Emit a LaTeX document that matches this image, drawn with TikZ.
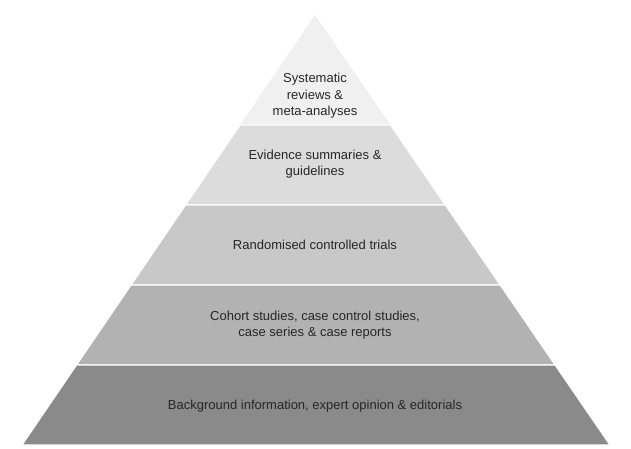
\documentclass[tikz,border=0pt]{standalone}
\usepackage{fontspec}
\setmainfont{Liberation Sans}
\usetikzlibrary{calc,positioning}
\definecolor{levelone}{RGB}{240,240,240}
\definecolor{leveltwo}{RGB}{220,220,220}
\definecolor{levelthree}{RGB}{200,200,200}
\definecolor{levelfour}{RGB}{178,178,178}
\definecolor{levelfive}{RGB}{138,138,138}

\begin{document}
\begin{tikzpicture}[
    x=1pt, y=-1pt,
    band/.style={draw=white, line width=1.2pt},
    label/.style={align=center, font=\fontsize{13}{16.5}\selectfont, text=black!85}
]
\useasboundingbox (0,0) rectangle (631,449);

% Corners of the pyramid
\coordinate (apex) at (315,15);
\coordinate (baseleft) at (22,445);
\coordinate (baseright) at (610,445);

% Bands from top to bottom
\fill[levelone] (apex) -- ($(apex)!110/430!(baseleft)$) -- ($(apex)!110/430!(baseright)$) -- cycle;
\foreach \a/\b/\c in {110/190/leveltwo, 190/270/levelthree, 270/350/levelfour, 350/430/levelfive} {
    \filldraw[band, fill=\c] ($(apex)!\a/430!(baseleft)$) -- ($(apex)!\b/430!(baseleft)$)
        -- ($(apex)!\b/430!(baseright)$) -- ($(apex)!\a/430!(baseright)$) -- cycle;
}

% Labels
\node[label] (sysrev) at (315,96) {Systematic\\reviews \&\\meta-analyses};
\node[label] (summaries) at (315,164) {Evidence summaries \&\\guidelines};
\node[label] (rct) at (315,245) {Randomised controlled trials};
\node[label] (cohort) at (315,325) {Cohort studies, case control studies,\\case series \& case reports};
\node[label] (background) at (315,406) {Background information, expert opinion \& editorials};

\end{tikzpicture}
\end{document}
